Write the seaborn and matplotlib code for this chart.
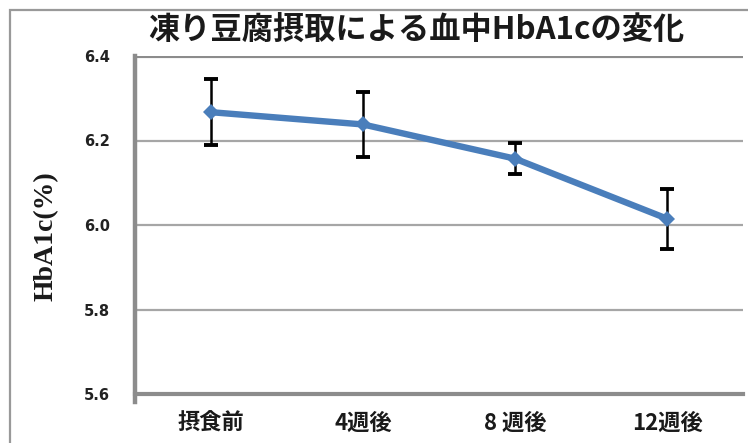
import matplotlib
matplotlib.use("Agg")
import matplotlib.pyplot as plt
import matplotlib.patches as mpatches
import numpy as np
import pandas as pd
import seaborn as sns

categories = ["摂食前", "4週後", "8 週後", "12週後"]
hba1c_mean = [6.267, 6.238, 6.157, 6.015]
hba1c_err = [0.078, 0.077, 0.037, 0.071]
y_ticks = [5.6, 5.8, 6.0, 6.2, 6.4]
y_tick_labels = ["5.6", "5.8", "6.0", "6.2", "6.4"]
title_text = "凍り豆腐摂取による血中HbA1cの変化"
y_label = "HbA1c(%)"

sns.set_theme(style="white")
plt.rcParams['font.family'] = ['Noto Sans CJK JP', 'DejaVu Sans']

df = pd.DataFrame({"pos": np.arange(len(categories)), "val": hba1c_mean, "err": hba1c_err})

fig = plt.figure(figsize=(7.48, 4.43), dpi=100)
ax = fig.add_axes([135/748, 1-394/443, (743-135)/748, (394-56)/443])

grid_c = "#a6a6a6"
for yt in y_ticks[1:-1]:
    ax.axhline(yt, color=grid_c, lw=1.6, zorder=0)
ax.axhline(6.4, color="#8c8c8c", lw=3.0, zorder=0)

ax.errorbar(df["pos"], df["val"], yerr=df["err"], fmt="none", ecolor="black",
            elinewidth=1.8, capsize=5, capthick=2.8, zorder=3)
sns.lineplot(data=df, x="pos", y="val", ax=ax, color="#4a7ebb", lw=4.6,
             marker="D", markersize=8, markeredgewidth=0, zorder=4)

ax.set_xlim(-0.5, len(categories) - 0.5)
ax.set_ylim(5.6, 6.4)
ax.set_yticks(y_ticks)
ax.set_yticklabels(y_tick_labels, fontsize=10.5, fontweight="heavy", family=["DejaVu Sans"], color="#222222")
ax.set_xticks(df["pos"])
ax.set_xticklabels(categories, fontsize=16, fontweight="bold", color="#1a1a1a")
ax.set_xticks(np.arange(-0.5, len(categories)), minor=True)
ax.tick_params(axis="x", which="major", length=0, pad=13)
ax.tick_params(axis="x", which="minor", length=7, width=2.0, color="#8c8c8c", direction="out")
ax.tick_params(axis="y", which="major", length=7, width=1.5, color="#8c8c8c", direction="out", pad=11)
ax.set_xlabel("")
ax.set_ylabel(y_label, fontsize=20, fontweight="bold", family=["Liberation Serif"], color="#1a1a1a")
ax.yaxis.set_label_coords(-0.126, 0.467)

for s in ["top", "right"]:
    ax.spines[s].set_visible(False)
ax.spines["left"].set_color("#8c8c8c")
ax.spines["left"].set_linewidth(3.2)
ax.spines["bottom"].set_color("#8c8c8c")
ax.spines["bottom"].set_linewidth(3.0)
ax.spines["left"].set_bounds(5.6 - 0.018, 6.4)

fig.text(416/748, 1-30/443, title_text, ha="center", va="center", fontsize=22.5,
         fontweight="bold", color="#1a1a1a")

frame = mpatches.Rectangle((10/748, -0.1), 1.2, 1.1 - 10/443, transform=fig.transFigure,
                           fill=False, edgecolor="#999999", lw=1.6)
fig.patches.append(frame)

fig.savefig("out.png", dpi=100)
